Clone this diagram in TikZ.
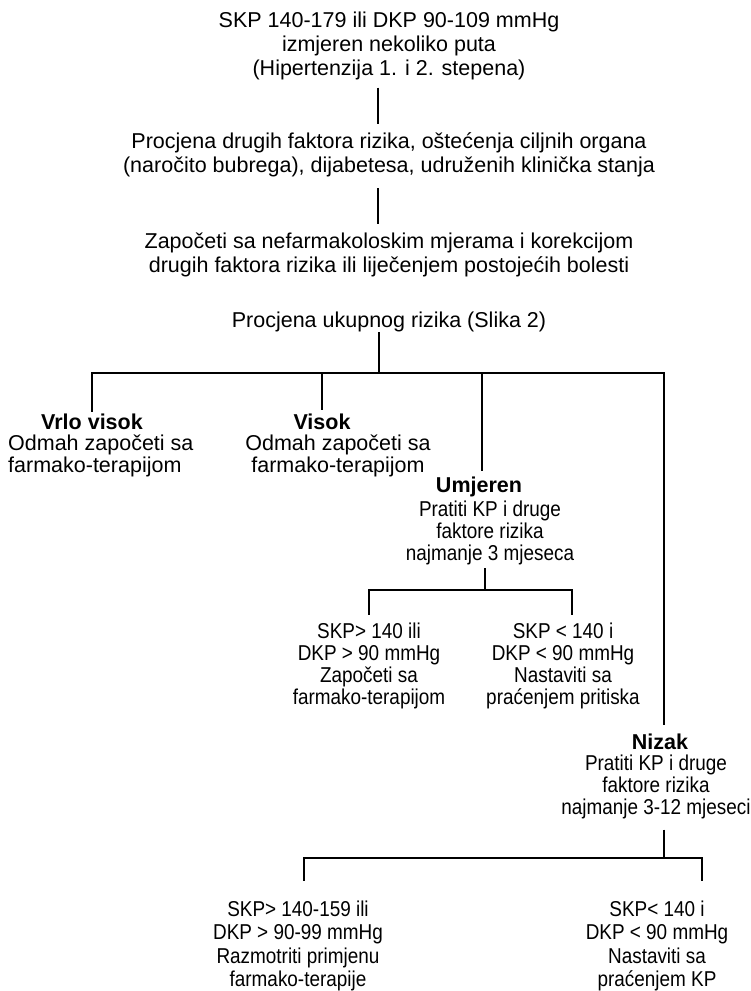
\documentclass[tikz,border=0pt]{standalone}
\usepackage{fontspec}
\setmainfont{Liberation Sans}
\newfontfamily\narrowfont{Liberation Sans}[FakeStretch=0.88]
\begin{document}
\begin{tikzpicture}[x=1pt,y=-1pt,
  every node/.style={inner sep=0pt,align=center,font=\fontsize{21.5}{24}\selectfont},
  body/.style={font=\fontsize{21.5}{22}\selectfont},
  small/.style={font=\narrowfont\fontsize{21.5}{22}\selectfont},
  head/.style={font=\fontsize{21.5}{22}\selectfont\bfseries},
  link/.style={draw=black,line width=2.8pt}]
\useasboundingbox (0,0) rectangle (750,991);
% upper chain
\node (title) at (389,45.5) {SKP 140-179 ili DKP 90-109 mmHg\\izmjeren nekoliko puta\\(Hipertenzija 1. i 2. stepena)};
\node (assess) at (389,154.7) {Procjena drugih faktora rizika, oštećenja ciljnih organa\\(naročito bubrega), dijabetesa, udruženih klinička stanja};
\node (start) at (389,254.7) {Započeti sa nefarmakoloskim mjerama i korekcijom\\drugih faktora rizika ili liječenjem postojećih bolesti};
\node (risk) at (389,322.2) {Procjena ukupnog rizika (Slika 2)};
\draw[link]([xshift=-11pt,yshift=-8pt]title.south)--([xshift=-11pt,yshift=8pt]assess.north);
\draw[link]([xshift=-11pt,yshift=-11pt]assess.south)--([xshift=-11pt,yshift=8pt]start.north);
% risk groups
\coordinate (split) at (379,373);
\node[head] (vhigh) at (92,422) {Vrlo visok};
\node[body,align=left,anchor=west] (vhighT) at (8,456.2) {Odmah započeti sa\\farmako-terapijom};
\node[head] (high) at (322,422) {Visok};
\node[body] (highT) at (338,456.2) {Odmah započeti sa\\farmako-terapijom};
\node[head] (mod) at (479,487) {Umjeren};
\node[small] (modT) at (490,532.9) {Pratiti KP i druge\\faktore rizika\\najmanje 3 mjeseca};
\node[head] (low) at (660,742) {Nizak};
\node[small] (lowT) at (656,786.5) {Pratiti KP i druge\\faktore rizika\\najmanje 3-12 mjeseci};
\draw[link]([xshift=-10pt]risk.south)--(split);
\draw[link]([yshift=2pt]vhigh.north)|-(split)-|([xshift=4pt,yshift=9pt]low.north);
\draw[link]([yshift=4pt]high.north)--(high.north|-split);
\draw[link]([xshift=3pt,yshift=6pt]mod.north)--([xshift=3pt]mod.north|-split);
% moderate branch
\coordinate (modsplit) at (485,590);
\node[small] (modA) at (369,666) {SKP> 140 ili\\DKP > 90 mmHg\\Započeti sa\\farmako-terapijom};
\node[small] (modB) at (563,666) {SKP < 140 i\\DKP < 90 mmHg\\Nastaviti sa\\praćenjem pritiska};
\draw[link]([xshift=-5pt,yshift=-3pt]modT.south)--(modsplit);
\draw[link]([yshift=8pt]modA.north)|-(modsplit)-|([xshift=9pt,yshift=8pt]modB.north);
% low branch
\coordinate (lowsplit) at (664,858);
\node[small,font=\narrowfont\fontsize{21.5}{23.3}\selectfont] (lowA) at (298,946) {SKP> 140-159 ili\\DKP > 90-99 mmHg\\Razmotriti primjenu\\farmako-terapije};
\node[small,font=\narrowfont\fontsize{21.5}{23.3}\selectfont] (lowB) at (657,946) {SKP< 140 i\\DKP < 90 mmHg\\Nastaviti sa\\praćenjem KP};
\draw[link]([xshift=8pt,yshift=-11pt]lowT.south)--(lowsplit);
\draw[link]([xshift=6pt,yshift=20pt]lowA.north)|-(lowsplit)-|([xshift=45pt,yshift=20pt]lowB.north);
\end{tikzpicture}
\end{document}
